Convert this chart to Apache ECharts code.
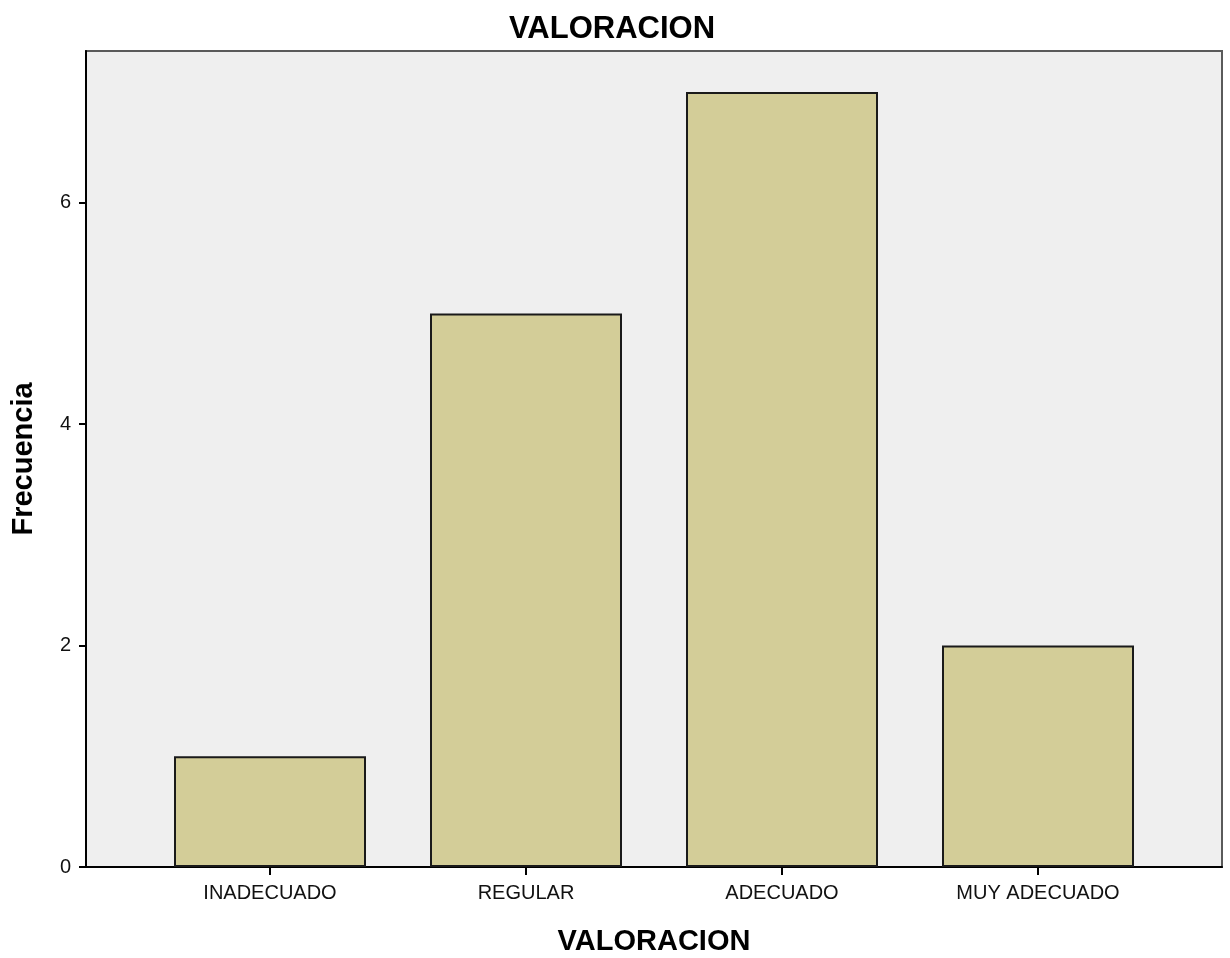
<!DOCTYPE html>
<html>
<head>
<meta charset="utf-8">
<title>VALORACION</title>
<script src="https://cdn.jsdelivr.net/npm/echarts@6/dist/echarts.min.js"></script>
<style>
  html, body { margin: 0; padding: 0; background: #fff; }
  #chart { width: 1230px; height: 958px; }
</style>
</head>
<body>
<div id="chart"></div>
<script>
// datos
var categorias = ["INADECUADO", "REGULAR", "ADECUADO", "MUY ADECUADO"];
var frecuencias = [1, 5, 7, 2];
var ticksY = [0, 2, 4, 6];
var yMax = 7.37;

var fuente = "Liberation Sans";
var nombreStyle = { fontFamily: fuente, fontSize: 29, fontWeight: "bold", color: "#000" };

var myChart = echarts.init(document.getElementById("chart"));
myChart.setOption({
  animation: false,
  backgroundColor: "#ffffff",
  title: {
    text: "VALORACION",
    left: 607,
    top: 9,
    textAlign: "center",
    textStyle: { fontFamily: fuente, fontSize: 31, fontWeight: "bold", color: "#000" },
  },
  // grid 0: marco y fondo, grid 1: barras (las categorias no llegan a los bordes)
  grid: [
    {
      left: 86, right: 8, top: 51, bottom: 91,
      outerBoundsMode: "none",
      show: true,
      backgroundColor: "#efefef",
      borderColor: "#5a5a5a",
      borderWidth: 2,
    },
    {
      left: 142, right: 64, top: 51, bottom: 91,
      outerBoundsMode: "none",
    },
  ],
  xAxis: [
    {
      gridIndex: 0,
      type: "value",
      min: 0,
      max: 1,
      name: "VALORACION",
      nameLocation: "middle",
      nameGap: 60,
      nameTextStyle: nombreStyle,
      axisLine: { show: true, lineStyle: { color: "#000", width: 2 } },
      axisTick: { show: false },
      axisLabel: { show: false },
      splitLine: { show: false },
    },
    {
      gridIndex: 1,
      type: "category",
      data: categorias,
      axisLine: { show: false },
      axisTick: { show: true, alignWithLabel: true, length: 8, lineStyle: { color: "#000", width: 2 } },
      axisLabel: { interval: 0, margin: 16, fontFamily: fuente, fontSize: 20, color: "#111" },
      splitLine: { show: false },
    },
  ],
  yAxis: [
    {
      gridIndex: 0,
      type: "value",
      min: 0,
      max: yMax,
      interval: 2,
      name: "Frecuencia",
      nameLocation: "middle",
      nameGap: 48,
      nameRotate: 90,
      nameTextStyle: nombreStyle,
      axisLine: { show: true, lineStyle: { color: "#000", width: 2 } },
      axisTick: { show: true, length: 7, lineStyle: { color: "#000", width: 2 } },
      axisLabel: {
        margin: 15,
        fontFamily: fuente,
        fontSize: 20,
        color: "#111",
        showMaxLabel: false,
        formatter: function (v) {
          return ticksY.indexOf(v) >= 0 ? String(v) : "";
        },
      },
      splitLine: { show: false },
    },
    {
      gridIndex: 1,
      type: "value",
      min: 0,
      max: yMax,
      show: false,
    },
  ],
  series: [
    {
      type: "bar",
      xAxisIndex: 1,
      yAxisIndex: 1,
      data: frecuencias,
      barCategoryGap: "25%",
      itemStyle: {
        color: "#d3cd98",
        borderColor: "#1a1a1a",
        borderWidth: 2,
      },
    },
  ],
});
</script>
</body>
</html>
